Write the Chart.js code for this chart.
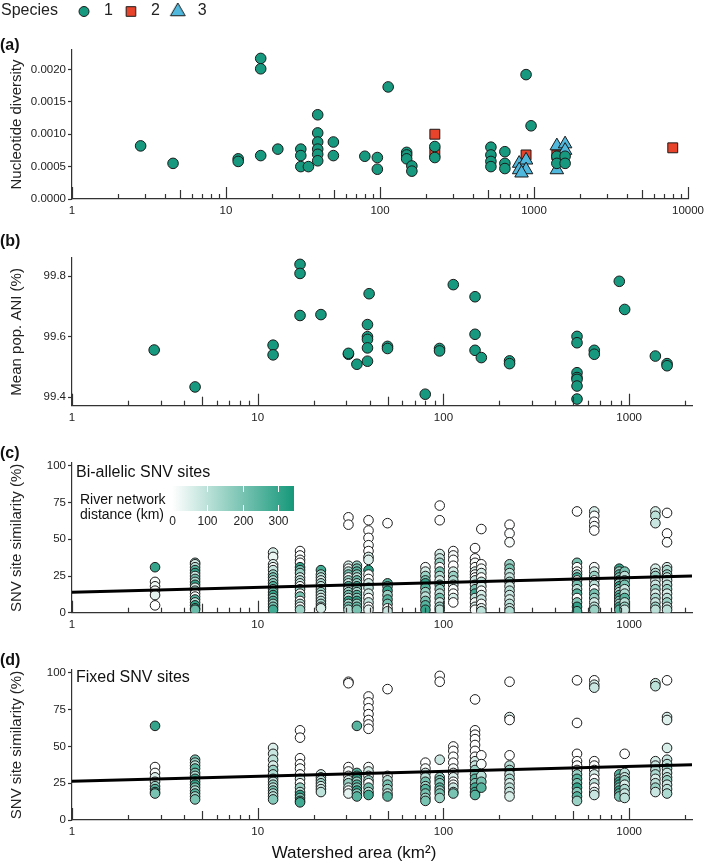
<!DOCTYPE html>
<html>
<head>
<meta charset="utf-8">
<script src="https://cdn.jsdelivr.net/npm/chart.js@4.4.1/dist/chart.umd.min.js"></script>
<style>
    body { margin: 0; background: #fff; width: 709px; height: 867px; position: relative; overflow: hidden; }
    canvas { position: absolute; left: 0; }
</style>
</head>
<body>
<canvas id="panelA" width="709" height="224" style="top:0px"></canvas>
<canvas id="panelB" width="709" height="202" style="top:228px"></canvas>
<canvas id="panelC" width="709" height="196" style="top:440px"></canvas>
<canvas id="panelD" width="709" height="227" style="top:640px"></canvas>
<script>
// (a) nucleotide diversity by species: [watershed area km2, diversity]
const species1 = [
    [2.79, 0.00082], [4.53, 0.00055], [12.0, 0.00062], [12.0, 0.00058],
    [16.8, 0.00217], [16.8, 0.00201], [16.8, 0.00067], [21.7, 0.00077],
    [30.6, 0.00077], [30.6, 0.00067], [30.6, 0.00050], [34.3, 0.00050],
    [39.4, 0.00130], [39.4, 0.00102], [39.4, 0.00088], [39.4, 0.00077],
    [39.4, 0.00069], [39.4, 0.00059], [49.8, 0.00088], [49.8, 0.00067],
    [79.7, 0.00066], [96.1, 0.00064], [96.1, 0.00046], [113, 0.00173],
    [149, 0.00072], [149, 0.00068], [149, 0.00062], [161, 0.00051], [161, 0.00043],
    [227, 0.00081], [227, 0.00064], [525, 0.00080], [525, 0.00068], [525, 0.00058],
    [525, 0.00050], [647, 0.00073], [647, 0.00055], [647, 0.00047], [888, 0.00192],
    [957, 0.00113], [1407, 0.00066], [1407, 0.00055], [1592, 0.00066], [1592, 0.00055]
];
const species2 = [[227, 0.00100], [227, 0.00072], [888, 0.00068], [1407, 0.00068], [7960, 0.00079]];
const species3 = [
    [801, 0.00055], [888, 0.00060], [801, 0.00045], [888, 0.00045], [830, 0.00040],
    [1407, 0.00082], [1592, 0.00085], [1592, 0.00075], [1407, 0.00045]
];

// (b) mean population ANI (%)
const aniPoints = [
    [2.77, 99.556], [4.6, 99.434], [12.1, 99.572], [12.1, 99.540], [16.9, 99.839],
    [16.9, 99.809], [16.9, 99.670], [21.9, 99.673], [30.8, 99.542], [30.8, 99.545],
    [34.2, 99.509], [39.8, 99.742], [39, 99.640], [39, 99.600], [39, 99.591],
    [39, 99.563], [39, 99.519], [50, 99.568], [50, 99.561], [79.8, 99.410],
    [95.3, 99.561], [95.3, 99.553], [113, 99.772], [148, 99.732], [148, 99.608],
    [148, 99.555], [160, 99.531], [227, 99.520], [227, 99.511], [524, 99.601],
    [524, 99.580], [524, 99.481], [524, 99.465], [524, 99.459], [524, 99.437],
    [524, 99.394], [649, 99.555], [649, 99.542], [885, 99.783], [946, 99.690],
    [1384, 99.536], [1600, 99.511], [1600, 99.504]
];

// (c)/(d) pairwise SNV site similarity: per watershed, [similarity %, river distance km]
const siteArea = [2.8, 4.6, 12.1, 16.9, 21.9, 30.8, 34.2, 39.5, 50, 80, 95.5, 113, 148, 160, 227, 524, 649, 885, 946, 1385, 1600];
const biallelic = [
    [[31,300],[21,10],[18,20],[15,5],[12,40],[5,0]],
    [[34,150],[33,60],[31,100],[29,250],[27,300],[25,80],[23,200],[21,120],[19,300],[17,60],[15,150],[13,10],[11,5],[9,250],[7,100],[5,300],[3,280],[2,220]],
    [[41,60],[38,30],[33,50],[31,10],[29,80],[26,150],[24,200],[22,120],[20,180],[18,250],[16,100],[14,220],[12,300],[10,180],[8,260],[6,150],[4,200],[2,280]],
    [[42,0],[39,5],[36,10],[34,0],[31,300],[29,200],[27,150],[24,60],[22,100],[20,80],[18,5],[16,150],[13,10],[11,200],[8,0],[6,100],[4,20],[2,150]],
    [[29,280],[26,150],[24,100],[22,60],[20,120],[18,80],[16,50],[14,150],[12,90],[10,60],[8,100],[6,120],[4,80],[3,60]],
    [[65,0],[60,0],[32,60],[30,10],[28,100],[26,200],[24,10],[22,150],[20,80],[18,250],[16,60],[14,150],[12,200],[10,80],[8,300],[6,120],[4,200],[2,100]],
    [[32,150],[30,200],[28,250],[26,180],[24,100],[22,220],[20,150],[18,280],[16,200],[14,120],[12,250],[10,180],[8,300],[6,150],[4,220],[2,200]],
    [[63,0],[56,0],[51,0],[46,5],[42,0],[38,60],[36,50],[29,320],[26,10],[23,0],[20,60],[17,100],[13,60],[10,10],[7,80],[4,0],[2,40]],
    [[61,0],[20,250],[18,200],[15,300],[12,150],[9,250],[6,200],[3,0],[1,80]],
    [[31,10],[28,60],[25,150],[22,200],[20,300],[17,250],[14,150],[11,100],[8,200],[5,250],[2,300]],
    [[73,0],[63,0],[40,60],[37,80],[34,150],[31,10],[28,200],[25,120],[22,60],[19,250],[16,150],[13,100],[10,200],[7,80],[4,150],[2,100]],
    [[42,0],[39,10],[36,5],[32,0],[28,60],[25,150],[22,120],[19,80],[16,10],[13,5],[10,60],[7,0]],
    [[44,0],[37,0],[34,10],[31,5],[28,60],[26,10],[24,0],[22,80],[19,60],[16,200],[13,280],[10,100],[7,20],[4,60],[2,10]],
    [[57,0],[33,0],[30,10],[27,60],[24,5],[21,100],[18,50],[15,10],[12,60],[9,80],[6,10],[3,40],[1,100]],
    [[60,0],[54,5],[48,10],[33,150],[30,200],[27,100],[24,80],[21,150],[18,60],[15,100],[12,80],[9,60],[6,100],[3,80],[1,120]],
    [[69,0],[34,200],[31,10],[28,5],[26,150],[24,280],[22,10],[19,200],[16,100],[13,250],[10,10],[7,180],[4,300],[1,250]],
    [[69,60],[66,5],[62,0],[59,10],[56,0],[31,10],[28,60],[25,150],[22,0],[19,100],[16,10],[13,200],[10,150],[7,60],[4,100],[2,150]],
    [[30,300],[28,150],[26,250],[24,200],[22,280],[20,150],[18,300],[16,180],[14,100],[12,250],[10,280],[8,200],[6,150],[4,300],[2,250]],
    [[28,200],[25,100],[22,150],[19,200],[16,80],[13,120],[10,250],[7,100],[4,150],[2,80]],
    [[69,60],[66,100],[61,80],[30,60],[27,100],[25,150],[22,60],[19,80],[16,150],[13,60],[10,120],[7,80],[4,150],[2,100]],
    [[68,0],[54,0],[48,5],[31,60],[29,120],[26,150],[24,80],[22,60],[19,100],[16,150],[13,60],[10,100],[7,150],[4,80],[2,100]]
];
const fixedSites = [
    [[64,300],[36,0],[32,10],[29,50],[26,80],[23,150],[21,250],[19,300],[18,200]],
    [[41,200],[39,150],[37,100],[35,250],[32,200],[30,120],[28,280],[26,150],[24,300],[22,200],[20,120],[18,250],[16,150],[14,200]],
    [[49,50],[45,80],[41,100],[37,60],[34,150],[31,120],[28,200],[26,80],[24,150],[22,100],[20,200],[18,120],[16,100],[14,180]],
    [[61,0],[56,0],[42,0],[38,5],[35,10],[31,0],[28,60],[25,10],[22,150],[19,100],[17,300],[15,200],[13,250],[12,280]],
    [[31,60],[29,80],[27,100],[25,150],[23,60],[21,80],[19,100]],
    [[94,0],[93,0],[36,0],[33,10],[30,0],[27,60],[25,150],[22,80],[20,10],[18,40]],
    [[64,250],[32,250],[30,200],[28,300],[26,150],[24,250],[22,200],[20,300],[18,180],[16,250]],
    [[84,0],[80,0],[76,0],[72,0],[68,0],[65,0],[62,0],[36,10],[33,60],[30,20],[27,150],[25,10],[22,200],[19,100],[17,280]],
    [[89,0],[30,10],[27,100],[24,200],[21,150],[18,100],[16,250]],
    [[39,0],[35,10],[32,60],[29,100],[26,200],[23,150],[21,250],[18,200],[15,150],[13,200]],
    [[98,0],[94,0],[41,80],[29,150],[27,200],[25,180],[22,250],[20,150],[18,200],[15,150]],
    [[50,0],[47,0],[43,5],[39,0],[35,10],[32,0],[29,50],[26,5],[24,10],[22,80],[19,150],[18,200]],
    [[82,0],[61,0],[58,0],[55,0],[51,0],[47,0],[43,5],[40,60],[37,80],[34,150],[31,200],[28,250],[25,200],[22,280],[19,300],[17,250]],
    [[44,0],[38,10],[30,100],[26,200],[22,250]],
    [[94,0],[70,50],[68,0],[44,0],[37,100],[34,150],[31,80],[28,120],[25,60],[22,100],[19,80],[16,60]],
    [[95,0],[66,0],[45,0],[40,5],[37,0],[34,10],[31,150],[28,250],[25,200],[22,300],[19,180],[16,250],[13,150]],
    [[95,0],[92,60],[90,80],[40,0],[37,5],[34,10],[31,60],[28,0],[25,100],[22,10],[19,50],[17,80]],
    [[31,250],[28,200],[26,300],[24,280],[22,200],[20,300],[18,250],[16,200]],
    [[45,0],[32,100],[29,80],[27,150],[24,60],[21,120],[18,80],[15,100]],
    [[93,80],[91,100],[40,60],[37,80],[34,100],[31,120],[28,60],[25,100],[22,150],[19,80]],
    [[95,0],[70,60],[68,50],[49,60],[41,80],[38,100],[35,150],[32,80],[29,100],[27,150],[24,80],[21,100],[18,120]]
];

// regression fits (endpoints of the fitted line)
const fitArea = [1, 2180];
const fitBiallelic = [13.9, 25.0];
const fitFixed = [26.3, 37.5];

const distTicks = [0, 100, 200, 300];
const distMax = 345;

const TEAL = '#16997f';
const RED = '#e8442b';
const BLUE = '#4fb8dc';
const EDGE = '#1a1a1a';

Chart.defaults.font.family = "'Liberation Sans', Arial, Helvetica, sans-serif";
Chart.defaults.color = '#222';

function distColor(d) {
    const t = Math.max(0, Math.min(1, d / distMax));
    const lo = [255, 255, 255], hi = [22, 152, 122];
    const c = lo.map((v, i) => Math.round(v + (hi[i] - v) * t));
    return 'rgb(' + c.join(',') + ')';
}

function isDecade(v) {
    const l = Math.log10(v);
    return Math.abs(l - Math.round(l)) < 1e-9;
}

// small canvas used as a legend marker, so each species gets its own size
function legendIcon(style, radius, fill) {
    const c = document.createElement('canvas');
    c.width = 20; c.height = 20;
    const ctx = c.getContext('2d');
    ctx.fillStyle = fill;
    ctx.strokeStyle = EDGE;
    ctx.lineWidth = 1;
    Chart.helpers.drawPoint(ctx, { pointStyle: style, radius, rotation: 0, borderWidth: 1 }, 10, 10.5);
    return c;
}
const legendIcons = [
    legendIcon('circle', 5, TEAL),
    legendIcon('rect', 6.8, RED),
    legendIcon('triangle', 8.5, BLUE)
];

// free text drawn on a canvas (panel letters, inset titles)
Chart.register({
    id: 'texts',
    afterDraw(chart, args, opts) {
        const ctx = chart.ctx;
        (opts.items || []).forEach(it => {
            ctx.save();
            ctx.font = it.font;
            ctx.fillStyle = it.color || '#111';
            ctx.textAlign = it.align || 'left';
            ctx.textBaseline = 'middle';
            ctx.fillText(it.text, it.x, it.y);
            ctx.restore();
        });
    }
});

// minor / major log ticks pointing up from the x axis
Chart.register({
    id: 'logTicks',
    afterDraw(chart) {
        const s = chart.scales.x;
        const ctx = chart.ctx;
        ctx.save();
        ctx.strokeStyle = '#333';
        ctx.lineWidth = 1.2;
        s.ticks.forEach(t => {
            const e = Math.floor(Math.log10(t.value) + 1e-9);
            const m = t.value / Math.pow(10, e);
            if (Math.abs(m - Math.round(m)) > 1e-6) return;
            const r = Math.round(m);
            const len = r === 1 || r === 10 ? 12 : (r === 5 ? 9 : 5);
            const px = Math.round(s.getPixelForValue(t.value)) + 0.5;
            ctx.beginPath();
            ctx.moveTo(px, s.top);
            ctx.lineTo(px, s.top - len);
            ctx.stroke();
        });
        ctx.restore();
    }
});

function panelOptions(o) {
    return {
        responsive: false,
        animation: false,
        layout: { padding: { left: 0, right: 17, top: o.padTop, bottom: 0 } },
        plugins: {
            legend: { display: false },
            tooltip: { enabled: false },
            texts: { items: o.texts }
        },
        scales: {
            x: {
                type: 'logarithmic',
                min: 1,
                max: o.xMax,
                grid: { display: false, drawTicks: false },
                border: { color: '#333', width: 1.2 },
                ticks: {
                    autoSkip: false, maxRotation: 0, padding: 5,
                    font: { size: 11.5 }, color: '#222',
                    callback: v => isDecade(v) ? String(v) : ''
                },
                afterFit: s => { s.height = o.xHeight; }
            },
            y: {
                min: o.yMin,
                max: o.yMax,
                grid: { drawOnChartArea: false, tickLength: 4, tickColor: '#333', tickWidth: 1.2 },
                border: { color: '#333', width: 1.2 },
                ticks: {
                    stepSize: o.yStep, includeBounds: false, padding: 2,
                    font: { size: 11.5 }, color: '#222', callback: o.yFmt
                },
                title: {
                    display: true, text: o.yTitle, font: { size: 15 }, color: '#222',
                    padding: { top: 8, bottom: 0 }
                },
                afterFit: s => { s.width = 72; }
            }
        }
    };
}

function toXY(list) {
    return list.map(([x, y]) => ({ x, y }));
}

function simPoints(groups) {
    const pts = [];
    siteArea.forEach((x, i) => groups[i].forEach(([y, d]) => pts.push({ x, y, d })));
    return pts;
}

function fitLine(ys) {
    return fitArea.map((x, i) => ({ x, y: ys[i] }));
}

const panelFont = 'bold 16px "Liberation Sans", Arial, sans-serif';
const labelFont = '16px "Liberation Sans", Arial, sans-serif';

// ---- (a)
const optsA = panelOptions({
    padTop: 0, xMax: 10000, xHeight: 25,
    yMin: 0, yMax: 0.0023, yStep: 0.0005, yFmt: v => v.toFixed(4),
    yTitle: 'Nucleotide diversity',
    texts: [
        { text: '(a)', x: 0, y: 46, font: panelFont },
        { text: 'Species', x: 1, y: 11, font: labelFont, color: '#222' }
    ]
});
optsA.plugins.legend = {
    display: true,
    position: 'top',
    align: 'start',
    labels: {
        usePointStyle: true, boxWidth: 8, boxHeight: 8, padding: 14,
        font: { size: 16 }, color: '#222',
        sort: (a, b) => a.datasetIndex - b.datasetIndex,
        generateLabels: chart => Chart.defaults.plugins.legend.labels.generateLabels(chart)
            .map(l => Object.assign(l, { text: '\u2002' + l.text, pointStyle: legendIcons[l.datasetIndex] }))
    }
};
new Chart(document.getElementById('panelA'), {
    type: 'scatter',
    data: {
        datasets: [
            { label: '1', data: toXY(species1), pointStyle: 'circle', pointRadius: 5.3, pointHoverRadius: 5.3,
              backgroundColor: TEAL, borderColor: EDGE, borderWidth: 1, order: 1 },
            { label: '2', data: toXY(species2), pointStyle: 'rect', pointRadius: 7, pointHoverRadius: 7,
              backgroundColor: RED, borderColor: EDGE, borderWidth: 1, order: 3 },
            { label: '3', data: toXY(species3), pointStyle: 'triangle', pointRadius: 7.8, pointHoverRadius: 7.8,
              backgroundColor: BLUE, borderColor: EDGE, borderWidth: 1, order: 2 }
        ]
    },
    options: optsA,
    plugins: [{
        id: 'legendPlace',
        beforeInit(chart) {
            const lg = chart.legend;
            const fit = lg.fit;
            lg.fit = function () { fit.call(this); this.height = 50; };
        },
        afterLayout(chart) {
            chart.legend.left = 66;
            chart.legend.top = -11;
        }
    }]
});

// ---- (b)
new Chart(document.getElementById('panelB'), {
    type: 'scatter',
    data: {
        datasets: [{
            data: toXY(aniPoints), pointRadius: 5.3, pointHoverRadius: 5.3,
            backgroundColor: TEAL, borderColor: EDGE, borderWidth: 1
        }]
    },
    options: panelOptions({
        padTop: 30, xMax: 2180, xHeight: 24.3,
        yMin: 99.372, yMax: 99.86, yStep: 0.2, yFmt: v => v.toFixed(1),
        yTitle: 'Mean pop. ANI (%)',
        texts: [{ text: '(b)', x: 0, y: 14, font: panelFont }]
    })
});

// ---- (c)
const colorbar = {
    id: 'colorbar',
    afterDraw(chart, args, o) {
        const ctx = chart.ctx;
        const g = ctx.createLinearGradient(o.x, 0, o.x + o.w, 0);
        g.addColorStop(0, distColor(0));
        g.addColorStop(1, distColor(distMax));
        ctx.save();
        ctx.fillStyle = g;
        ctx.fillRect(o.x, o.y, o.w, o.h);
        ctx.strokeStyle = '#fff';
        ctx.lineWidth = 1;
        ctx.fillStyle = '#222';
        ctx.font = '12px "Liberation Sans", Arial, sans-serif';
        ctx.textAlign = 'center';
        ctx.textBaseline = 'middle';
        distTicks.forEach(v => {
            const px = Math.round(o.x + v / distMax * o.w) + 0.5;
            if (v > 0) {
                ctx.beginPath();
                ctx.moveTo(px, o.y); ctx.lineTo(px, o.y + 6);
                ctx.moveTo(px, o.y + o.h - 6); ctx.lineTo(px, o.y + o.h);
                ctx.stroke();
            }
            ctx.fillText(String(v), px, o.y + o.h + 11);
        });
        ctx.restore();
    }
};
const optsC = panelOptions({
    padTop: 23, xMax: 2180, xHeight: 23.3,
    yMin: 0, yMax: 102, yStep: 25, yFmt: v => String(v),
    yTitle: 'SNV site similarity (%)',
    texts: [
        { text: '(c)', x: 0, y: 14, font: panelFont },
        { text: 'Bi-allelic SNV sites', x: 76, y: 32.5, font: labelFont },
        { text: 'River network', x: 80, y: 60, font: '14px "Liberation Sans", Arial, sans-serif' },
        { text: 'distance (km)', x: 80, y: 75, font: '14px "Liberation Sans", Arial, sans-serif' }
    ]
});
optsC.plugins.colorbar = { x: 172, y: 46, w: 122, h: 25 };
new Chart(document.getElementById('panelC'), {
    type: 'scatter',
    data: {
        datasets: [
            { data: fitLine(fitBiallelic), showLine: true, borderColor: '#000', borderWidth: 3,
              pointRadius: 0, pointHoverRadius: 0, order: -1 },
            { data: simPoints(biallelic), pointRadius: 4.8, pointHoverRadius: 4.8,
              backgroundColor: c => distColor(c.raw ? c.raw.d : 0), borderColor: EDGE, borderWidth: 1 }
        ]
    },
    options: optsC,
    plugins: [colorbar]
});

// ---- (d)
new Chart(document.getElementById('panelD'), {
    type: 'scatter',
    data: {
        datasets: [
            { data: fitLine(fitFixed), showLine: true, borderColor: '#000', borderWidth: 3,
              pointRadius: 0, pointHoverRadius: 0, order: -1 },
            { data: simPoints(fixedSites), pointRadius: 4.8, pointHoverRadius: 4.8,
              backgroundColor: c => distColor(c.raw ? c.raw.d : 0), borderColor: EDGE, borderWidth: 1 }
        ]
    },
    options: panelOptions({
        padTop: 30, xMax: 2180, xHeight: 47,
        yMin: 0, yMax: 102, yStep: 25, yFmt: v => String(v),
        yTitle: 'SNV site similarity (%)',
        texts: [
            { text: '(d)', x: 0, y: 21, font: panelFont },
            { text: 'Fixed SNV sites', x: 76, y: 38, font: labelFont },
            { text: 'Watershed area (km\u00b2)', x: 354, y: 213, font: '17px "Liberation Sans", Arial, sans-serif', align: 'center' }
        ]
    })
});
</script>
</body>
</html>
